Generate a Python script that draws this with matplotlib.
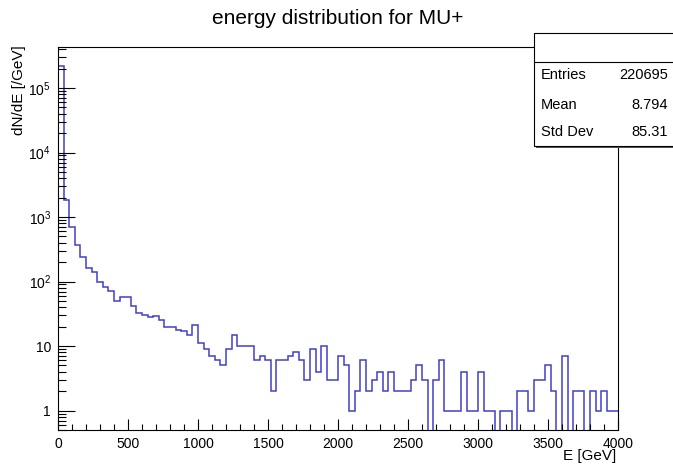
import numpy as np
import matplotlib
matplotlib.use("Agg")
import matplotlib.pyplot as plt
from matplotlib.patches import Rectangle
from matplotlib.lines import Line2D
from matplotlib.ticker import LogLocator, FuncFormatter, MultipleLocator, NullFormatter

plt.rcParams['font.family'] = ['Liberation Sans', 'DejaVu Sans']
plt.rcParams['mathtext.fontset'] = 'custom'
plt.rcParams['mathtext.rm'] = 'Liberation Sans'
plt.rcParams['mathtext.default'] = 'regular'

# histogram contents, 100 bins of 40 GeV from 0 to 4000
bin_width = 40
counts = [216000, 1850, 710, 370, 240, 165, 140, 100, 82, 71,
          50, 57, 57, 42, 33, 30, 28, 29, 25, 20,
          20, 18, 17, 15, 21, 11, 9, 7, 6, 5,
          9, 15, 10, 10, 10, 6, 7, 6, 2, 6,
          6, 7, 8, 6, 3, 9, 4, 10, 3, 3,
          7, 5, 1, 2, 6, 2, 3, 4, 2, 4,
          2, 2, 2, 3, 5, 3, 0, 3, 6, 1,
          1, 1, 4, 1, 1, 4, 1, 1, 0, 1,
          1, 0, 2, 2, 1, 3, 3, 5, 2, 0,
          7, 0, 2, 2, 0, 2, 1, 2, 1, 1]
edges = np.arange(0, bin_width * len(counts) + 1, bin_width)

stat_names = ["Entries", "Mean", "Std Dev"]
stat_values = ["220695", "8.794", "85.31"]

W, H = 673, 466
fig = plt.figure(figsize=(W / 100, H / 100), dpi=100)
ax = fig.add_axes([58 / W, 1 - 430 / H, 560 / W, 383 / H])

ax.stairs(counts, edges, baseline=None, color='#4040c8', lw=1.1)

ax.set_yscale('log')
ax.set_xlim(0, 4000)
ax.set_ylim(0.5, 2 * max(counts))

ax.xaxis.set_major_locator(MultipleLocator(500))
ax.xaxis.set_minor_locator(MultipleLocator(100))
ax.yaxis.set_major_locator(LogLocator(base=10, numticks=20))
ax.yaxis.set_minor_locator(LogLocator(base=10, subs=np.arange(2, 10), numticks=100))


def ylab(v, pos):
    e = int(round(np.log10(v)))
    if e == 0:
        return '1'
    if e == 1:
        return '10'
    return '$10^{%d}$' % e


ax.yaxis.set_major_formatter(FuncFormatter(ylab))
ax.yaxis.set_minor_formatter(NullFormatter())

ax.tick_params(which='both', direction='in', top=False, right=False, width=0.8, labelsize=10)
ax.tick_params(axis='y', which='major', length=12, pad=5)
ax.tick_params(axis='y', which='minor', length=6)
ax.tick_params(axis='x', which='major', length=8, pad=5)
ax.tick_params(axis='x', which='minor', length=4)
for s in ax.spines.values():
    s.set_linewidth(0.8)

ax.set_xlabel('E [GeV]', loc='right', fontsize=11)
ax.xaxis.set_label_coords(0.996, -0.05)
ax.set_ylabel('dN/dE [/GeV]', loc='top', fontsize=11)
ax.yaxis.set_label_coords(-0.058, 1.005)

fig.text(338 / W, 1 - 18 / H, 'energy distribution for MU+', ha='center', va='center', fontsize=15)

# stats box
bx0, by_top, by_bot, bx1 = 534, 33, 146, 690
shadow = Rectangle(((bx0 + 2) / W, 1 - (by_bot + 2) / H), (bx1 - bx0) / W, (by_bot - by_top) / H,
                   transform=fig.transFigure, facecolor='#555555', edgecolor='none', zorder=9)
box = Rectangle((bx0 / W, 1 - by_bot / H), (bx1 - bx0) / W, (by_bot - by_top) / H,
                transform=fig.transFigure, facecolor='white', edgecolor='black', lw=0.8, zorder=10)
fig.add_artist(shadow)
fig.add_artist(box)
fig.add_artist(Line2D([bx0 / W, 1], [1 - 62 / H, 1 - 62 / H], transform=fig.transFigure,
                      color='black', lw=0.8, zorder=11))
rows_y = [75, 105, 132]
for name, val, yy in zip(stat_names, stat_values, rows_y):
    fig.text(541 / W, 1 - yy / H, name, ha='left', va='center', fontsize=10.5, zorder=12)
    fig.text(668 / W, 1 - yy / H, val, ha='right', va='center', fontsize=10.5, zorder=12)

fig.savefig('out.png', dpi=100)
